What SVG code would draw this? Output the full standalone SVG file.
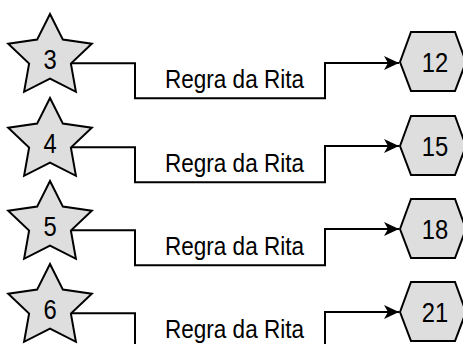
<svg xmlns="http://www.w3.org/2000/svg" xmlns:xlink="http://www.w3.org/1999/xlink" width="463" height="344" viewBox="0 0 463 344">
<style>
.shape{fill:#dedede;stroke:#000;stroke-width:2;stroke-linejoin:miter}
.num{font-family:"Liberation Sans",Arial,sans-serif;font-size:28px;fill:#000;text-anchor:middle}
.lbl{font-family:"Liberation Sans",Arial,sans-serif;font-size:26px;fill:#000;text-anchor:middle}
.conn{fill:none;stroke:#000;stroke-width:2}
</style>
<defs>
<polygon id="star" points="50,14 62.9,39.6 91.8,43.7 70.9,63.6 75.9,91.8 50,78.5 24.1,91.8 29.1,63.6 8.2,43.7 37.1,39.6"/>
<polygon id="hex" points="400,62 411,32 455,32 466,62 455,91 411,91"/>
<marker id="arr" markerWidth="16" markerHeight="14" refX="15" refY="7" orient="auto" markerUnits="userSpaceOnUse">
<path d="M0,0 L15,7 L0,14 L4,7 Z" fill="#000"/>
</marker>
</defs>
<g id="connectors">
<path class="conn" d="M72,63.3 H135 V98.3 H325 V63 H399" marker-end="url(#arr)"/>
<path class="conn" d="M72,147.3 H135 V182.3 H325 V146 H399" marker-end="url(#arr)"/>
<path class="conn" d="M72,230.3 H135 V265.3 H325 V229 H399" marker-end="url(#arr)"/>
<path class="conn" d="M72,313.3 H135 V348.3 H325 V312 H399" marker-end="url(#arr)"/>
<text class="lbl" x="234.5" y="88" textLength="139" lengthAdjust="spacingAndGlyphs">Regra da Rita</text>
<text class="lbl" x="234.5" y="172" textLength="139" lengthAdjust="spacingAndGlyphs">Regra da Rita</text>
<text class="lbl" x="234.5" y="255" textLength="139" lengthAdjust="spacingAndGlyphs">Regra da Rita</text>
<text class="lbl" x="234.5" y="338" textLength="139" lengthAdjust="spacingAndGlyphs">Regra da Rita</text>
</g>
<g id="star3"><use xlink:href="#star" class="shape"/><text class="num" transform="translate(50,68.5) scale(0.85,1)">3</text></g>
<g id="star4" transform="translate(0,84)"><use xlink:href="#star" class="shape"/><text class="num" transform="translate(50,68.5) scale(0.85,1)">4</text></g>
<g id="star5" transform="translate(0,167)"><use xlink:href="#star" class="shape"/><text class="num" transform="translate(50,68.5) scale(0.85,1)">5</text></g>
<g id="star6" transform="translate(0,250)"><use xlink:href="#star" class="shape"/><text class="num" transform="translate(50,68.5) scale(0.85,1)">6</text></g>
<g id="hex12"><use xlink:href="#hex" class="shape"/><text class="num" transform="translate(435,71.5) scale(0.85,1)">12</text></g>
<g id="hex15" transform="translate(0,84)"><use xlink:href="#hex" class="shape"/><text class="num" transform="translate(435,71.5) scale(0.85,1)">15</text></g>
<g id="hex18" transform="translate(0,167)"><use xlink:href="#hex" class="shape"/><text class="num" transform="translate(435,71.5) scale(0.85,1)">18</text></g>
<g id="hex21" transform="translate(0,250)"><use xlink:href="#hex" class="shape"/><text class="num" transform="translate(435,71.5) scale(0.85,1)">21</text></g>
</svg>
